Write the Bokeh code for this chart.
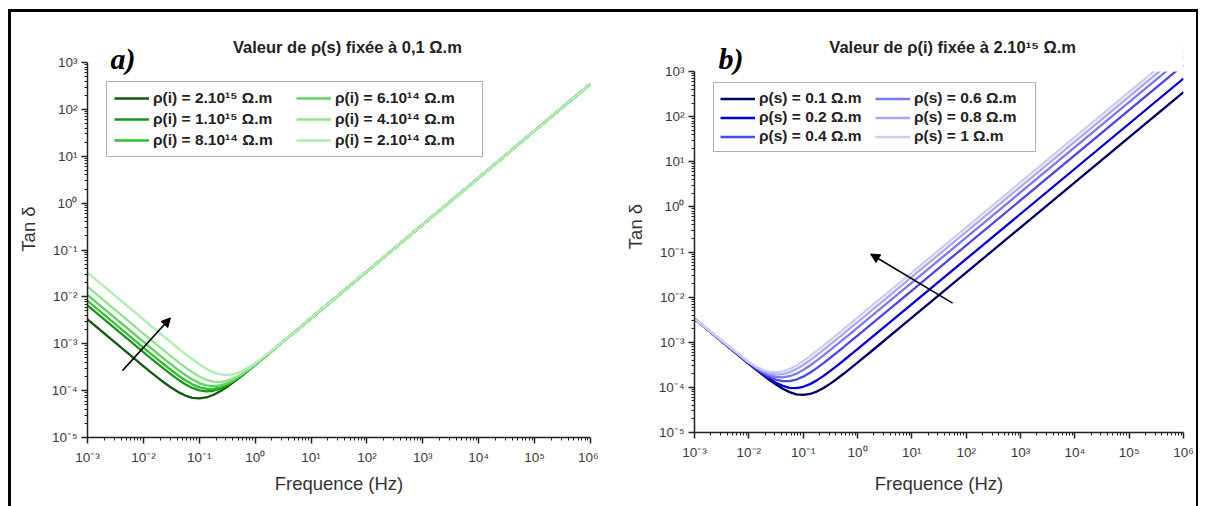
from bokeh.plotting import figure
from bokeh.models import (Legend, LegendItem, Label, Arrow, NormalHead, CustomJSTickFormatter,
                          Range1d, FixedTicker, BoxAnnotation, Spacer)
from bokeh.layouts import row, column
from bokeh.embed import file_html
from bokeh.resources import INLINE

# ---------------- data ----------------
freq = [1e-3, 1e-2, 0.013335, 0.017783, 0.023714, 0.031623, 0.04217, 0.056234, 0.074989, 0.1,
        0.13335, 0.17783, 0.23714, 0.31623, 0.4217, 0.56234, 0.74989, 1.0, 1.7783, 3.1623, 10.0, 1e6]

labels_a = ["ρ(i) = 2.10¹⁵ Ω.m", "ρ(i) = 1.10¹⁵ Ω.m", "ρ(i) = 8.10¹⁴ Ω.m",
            "ρ(i) = 6.10¹⁴ Ω.m", "ρ(i) = 4.10¹⁴ Ω.m", "ρ(i) = 2.10¹⁴ Ω.m"]
tan_a_2e15 = [3.30e-3, 3.335e-4, 2.521e-4, 1.918e-4, 1.475e-4, 1.154e-4, 9.302e-5, 7.84e-5, 7.026e-5, 6.8e-5,
              7.142e-5, 8.08e-5, 9.692e-5, 1.211e-4, 1.554e-4, 2.027e-4, 2.669e-4, 3.533e-4, 6.243e-4, 1.108e-3, 3.5e-3, 350]
tan_a_1e15 = [6.6e-3, 6.635e-4, 4.996e-4, 3.773e-4, 2.866e-4, 2.198e-4, 1.713e-4, 1.371e-4, 1.143e-4, 1.01e-4,
              9.617e-5, 9.94e-5, 1.108e-4, 1.316e-4, 1.633e-4, 2.086e-4, 2.713e-4, 3.566e-4, 6.261e-4, 1.109e-3, 3.5e-3, 350]
tan_a_8e14 = [8.25e-3, 8.285e-4, 6.233e-4, 4.701e-4, 3.562e-4, 2.72e-4, 2.104e-4, 1.664e-4, 1.363e-4, 1.175e-4,
              1.085e-4, 1.086e-4, 1.178e-4, 1.368e-4, 1.672e-4, 2.115e-4, 2.735e-4, 3.583e-4, 6.27e-4, 1.109e-3, 3.5e-3, 350]
tan_a_6e14 = [1.1e-2, 1.1035e-3, 8.296e-4, 6.248e-4, 4.722e-4, 3.59e-4, 2.756e-4, 2.153e-4, 1.729e-4, 1.45e-4,
              1.292e-4, 1.241e-4, 1.294e-4, 1.455e-4, 1.737e-4, 2.164e-4, 2.771e-4, 3.61e-4, 6.286e-4, 1.11e-3, 3.5e-3, 350]
tan_a_4e14 = [1.65e-2, 1.6535e-3, 1.242e-3, 9.341e-4, 7.041e-4, 5.329e-4, 4.06e-4, 3.131e-4, 2.463e-4, 2.0e-4,
              1.704e-4, 1.55e-4, 1.526e-4, 1.629e-4, 1.867e-4, 2.261e-4, 2.845e-4, 3.665e-4, 6.317e-4, 1.112e-3, 3.5e-3, 350]
tan_a_2e14 = [3.3e-2, 3.3035e-3, 2.479e-3, 1.862e-3, 1.4e-3, 1.055e-3, 7.973e-4, 6.065e-4, 4.663e-4, 3.65e-4,
              2.941e-4, 2.478e-4, 2.222e-4, 2.15e-4, 2.259e-4, 2.555e-4, 3.067e-4, 3.83e-4, 6.41e-4, 1.117e-3, 3.503e-3, 350]

labels_b = ["ρ(s) = 0.1 Ω.m", "ρ(s) = 0.2 Ω.m", "ρ(s) = 0.4 Ω.m",
            "ρ(s) = 0.6 Ω.m", "ρ(s) = 0.8 Ω.m", "ρ(s) = 1 Ω.m"]
tan_b_01 = [3.30e-3, 3.335e-4, 2.521e-4, 1.918e-4, 1.475e-4, 1.154e-4, 9.302e-5, 7.84e-5, 7.026e-5, 6.8e-5,
            7.142e-5, 8.08e-5, 9.692e-5, 1.211e-4, 1.554e-4, 2.027e-4, 2.669e-4, 3.533e-4, 6.243e-4, 1.108e-3, 3.5e-3, 350]
tan_b_02 = [3.301e-3, 3.37e-4, 2.568e-4, 1.98e-4, 1.558e-4, 1.265e-4, 1.078e-4, 9.8e-5, 9.65e-5, 1.03e-4,
            1.181e-4, 1.43e-4, 1.799e-4, 2.318e-4, 3.03e-4, 3.995e-4, 5.293e-4, 7.033e-4, 1.2467e-3, 2.215e-3, 7.0e-3, 700]
tan_b_04 = [3.301e-3, 3.44e-4, 2.661e-4, 2.105e-4, 1.724e-4, 1.486e-4, 1.373e-4, 1.374e-4, 1.49e-4, 1.73e-4,
            2.114e-4, 2.675e-4, 3.459e-4, 4.531e-4, 5.982e-4, 7.932e-4, 1.054e-3, 1.403e-3, 2.4915e-3, 4.428e-3, 1.4e-2, 1400]
tan_b_06 = [3.302e-3, 3.51e-4, 2.755e-4, 2.229e-4, 1.89e-4, 1.708e-4, 1.668e-4, 1.768e-4, 2.015e-4, 2.43e-4,
            3.048e-4, 3.92e-4, 5.119e-4, 6.745e-4, 8.934e-4, 1.187e-3, 1.579e-3, 2.103e-3, 3.736e-3, 6.642e-3, 2.1e-2, 2100]
tan_b_08 = [3.303e-3, 3.58e-4, 2.848e-4, 2.354e-4, 2.056e-4, 1.929e-4, 1.963e-4, 2.161e-4, 2.54e-4, 3.13e-4,
            3.981e-4, 5.165e-4, 6.779e-4, 8.958e-4, 1.189e-3, 1.581e-3, 2.104e-3, 2.803e-3, 4.981e-3, 8.855e-3, 2.8e-2, 2800]
tan_b_1 = [3.304e-3, 3.65e-4, 2.941e-4, 2.478e-4, 2.222e-4, 2.15e-4, 2.259e-4, 2.555e-4, 3.065e-4, 3.83e-4,
           4.915e-4, 6.41e-4, 8.439e-4, 1.117e-3, 1.484e-3, 1.974e-3, 2.629e-3, 3.503e-3, 6.226e-3, 1.107e-2, 3.5e-2, 3500]

series_a = [tan_a_2e15, tan_a_1e15, tan_a_8e14, tan_a_6e14, tan_a_4e14, tan_a_2e14]
series_b = [tan_b_01, tan_b_02, tan_b_04, tan_b_06, tan_b_08, tan_b_1]

title_a = "Valeur de ρ(s) fixée à 0,1 Ω.m"
title_b = "Valeur de ρ(i) fixée à 2.10¹⁵ Ω.m"
x_label = "Frequence (Hz)"
y_label = "Tan δ"

greens = ["#0f5a0f", "#149a1a", "#30c030", "#5fd35f", "#8ee38e", "#aeeeae"]
blues = ["#00006a", "#0000dc", "#4a4ae0", "#7a7aeb", "#a8a8f3", "#cbcbf8"]

x_major = [10.0 ** e for e in range(-3, 7)]
x_minor = [k * 10.0 ** e for e in range(-3, 6) for k in range(2, 10)]
y_major = [10.0 ** e for e in range(-5, 4)]
y_minor = [k * 10.0 ** e for e in range(-5, 3) for k in range(2, 10)]

SANS = "Liberation Sans"

sup_js = """
const s = {"-":"\u207b","0":"\u2070","1":"\u00b9","2":"\u00b2","3":"\u00b3","4":"\u2074",
           "5":"\u2075","6":"\u2076","7":"\u2077","8":"\u2078","9":"\u2079"};
const e = Math.round(Math.log10(tick));
return "10" + String(e).split("").map(c => s[c]).join("");
"""


def make_panel(series, labels, colors, width, height, left, right, top, bottom,
               y_hi, leg_loc, leg_spacing, leg_label_h, leg_label_w, leg_pad, xlab_standoff):
    p = figure(width=width, height=height, x_axis_type="log", y_axis_type="log",
               x_range=Range1d(1e-3, 1e6), y_range=Range1d(1e-5, 10 ** y_hi),
               output_backend="svg", toolbar_location=None,
               min_border_left=left, min_border_right=right,
               min_border_top=top, min_border_bottom=bottom)
    p.outline_line_color = None
    p.grid.visible = False
    p.background_fill_color = "white"
    p.border_fill_color = "white"

    p.xaxis.ticker = FixedTicker(ticks=x_major, minor_ticks=x_minor)
    p.yaxis.ticker = FixedTicker(ticks=y_major, minor_ticks=y_minor)
    p.yaxis.bounds = (1e-5, 1e3)
    for ax in (p.xaxis, p.yaxis):
        ax.formatter = CustomJSTickFormatter(code=sup_js)
        ax.axis_line_color = "#222222"
        ax.axis_line_width = 1.5
        ax.major_tick_line_color = "#222222"
        ax.minor_tick_line_color = "#222222"
        ax.major_tick_line_width = 1.5
        ax.major_tick_out = 6
        ax.major_tick_in = 0
        ax.minor_tick_out = 3
        ax.minor_tick_in = 0
        ax.major_label_text_font = SANS
        ax.major_label_text_font_size = "13.5px"
        ax.major_label_text_color = "#3a3a3a"
        ax.axis_label_text_font = SANS
        ax.axis_label_text_font_size = "18.5px"
        ax.axis_label_text_font_style = "normal"
        ax.axis_label_text_color = "#333333"
    p.xaxis.axis_label = x_label
    p.yaxis.axis_label = y_label
    p.xaxis.axis_label_standoff = xlab_standoff
    p.yaxis.axis_label_standoff = 10
    p.xaxis.major_label_standoff = 6
    p.yaxis.major_label_standoff = 4

    items = []
    for vals, lab, col in zip(series, labels, colors):
        r = p.line(freq, vals, line_color=col, line_width=2.3)
        m = p.scatter([], [], marker="circle", size=3.5, fill_color=col, line_color=col)
        items.append(LegendItem(label=lab, renderers=[r, m]))

    # blank area above the 10^3 end of the axis
    p.add_layout(BoxAnnotation(bottom=1e3, fill_color="white", fill_alpha=1.0, line_color=None))

    leg = Legend(items=items, location=leg_loc, ncols=2,
                 label_text_font=SANS, label_text_font_size="15.5px",
                 label_text_font_style="bold", label_text_color="#222222",
                 border_line_color="#666666", border_line_width=1,
                 background_fill_color="white", background_fill_alpha=1,
                 glyph_width=35, glyph_height=leg_label_h, label_height=leg_label_h,
                 label_width=leg_label_w, label_standoff=4,
                 spacing=leg_spacing, padding=leg_pad, margin=0)
    p.add_layout(leg, "center")
    return p


# panel a: frame from y=20 to 437 (10^3 at y=62)
pa = make_panel(series_a, labels_a, greens, width=587, height=494, left=76, right=8, top=8, bottom=69,
                y_hi=3.896, leg_loc=(19, 280), leg_spacing=3, leg_label_h=18, leg_label_w=140,
                leg_pad=7, xlab_standoff=5)
# panel b: frame from y=20 to 432 (10^3 at y=71)
pb = make_panel(series_b, labels_b, blues, width=598, height=494, left=96, right=13, top=8, bottom=74,
                y_hi=4.131, leg_loc=(19, 280), leg_spacing=1, leg_label_h=15, leg_label_w=115,
                leg_pad=6, xlab_standoff=10)

for p, title, tx, ty, lx, ly, tag in ((pa, title_a, 1.65, 3.341, -2.589, 3.085, "a)"),
                                      (pb, title_b, 1.751, 3.554, -2.558, 3.288, "b)")):
    p.add_layout(Label(x=10 ** tx, y=10 ** ty, text=title, text_font=SANS, text_font_size="16.5px",
                       text_font_style="bold", text_color="#222222", text_align="center",
                       text_baseline="middle"))
    p.add_layout(Label(x=10 ** lx, y=10 ** ly, text=tag, text_font="Liberation Serif",
                       text_font_size="30px", text_font_style="bold italic", text_color="black",
                       text_baseline="alphabetic"))

pa.add_layout(Arrow(x_start=10 ** -2.374, y_start=10 ** -3.574, x_end=10 ** -1.515, y_end=10 ** -2.447,
                    line_color="black", line_width=1.6,
                    end=NormalHead(size=9, fill_color="black", line_color="black")))
pb.add_layout(Arrow(x_start=10 ** 1.751, y_start=10 ** -2.133, x_end=10 ** 0.241, y_end=10 ** -1.044,
                    line_color="black", line_width=1.6,
                    end=NormalHead(size=9, fill_color="black", line_color="black")))

top_bar = row(Spacer(width=8, height=3),
              Spacer(width=1190, height=3, styles={"background-color": "black"}))
body = row(Spacer(width=8, height=494),
           Spacer(width=3, height=494, styles={"background-color": "black"}),
           column(pa), column(pb),
           Spacer(width=2, height=494, styles={"background-color": "black"}))
layout = column(Spacer(width=1198, height=9), top_bar, body)

open("out.html", "w").write(file_html(layout, INLINE))
